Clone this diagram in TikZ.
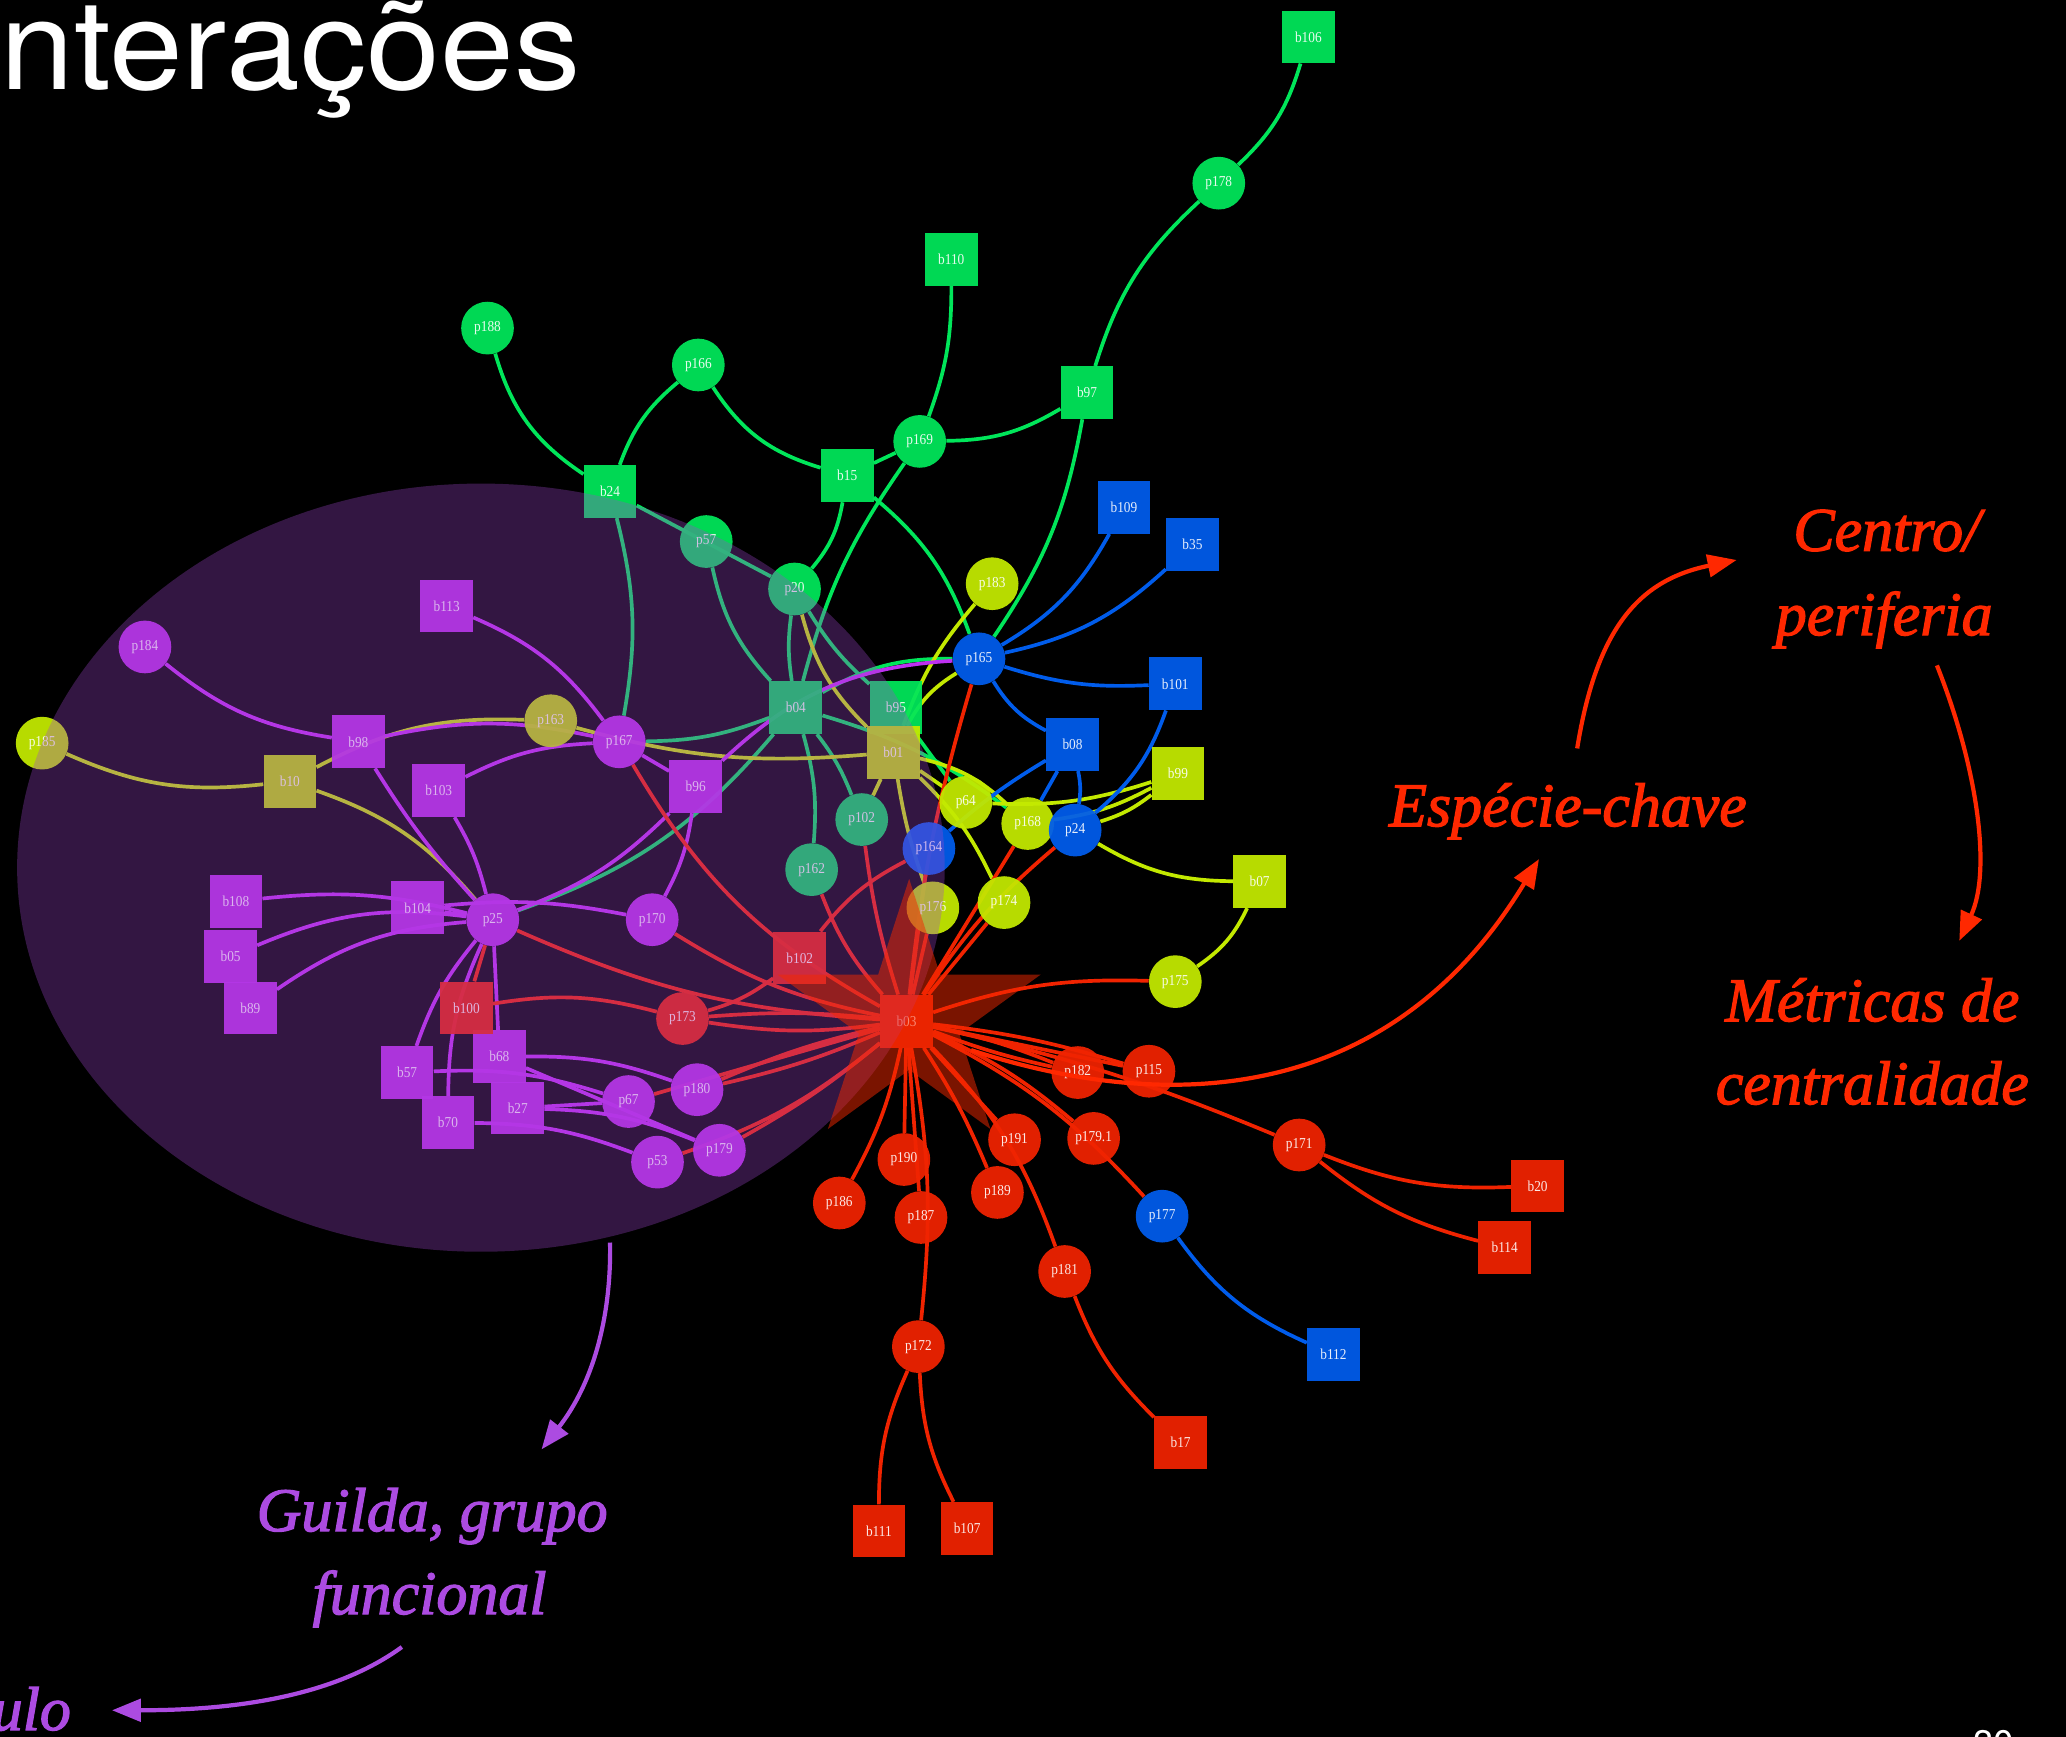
\documentclass[tikz,border=0pt]{standalone}
\usepackage{fontspec}
\usepackage{graphicx}
\setmainfont{Liberation Serif}
\newfontfamily\headfont{TeX Gyre Heros}
\newfontfamily\notefont{Liberation Serif}[FakeBold=2]
\usetikzlibrary{arrows.meta}

\definecolor{gn}{RGB}{0,230,90}
\definecolor{bl}{RGB}{0,92,235}
\definecolor{yl}{RGB}{195,233,0}
\definecolor{pu}{RGB}{190,48,241}
\definecolor{rd}{RGB}{240,35,0}
\definecolor{guild}{RGB}{160,69,206}
\definecolor{starc}{RGB}{244,40,0}
\definecolor{notered}{RGB}{255,40,0}
\definecolor{notepur}{RGB}{172,75,225}

\pgfdeclarelayer{bg}
\pgfdeclarelayer{edges}
\pgfdeclarelayer{over}
\pgfdeclarelayer{top}
\pgfsetlayers{bg,edges,main,over,top}

\newcommand\lb[1]{\scalebox{0.88}[1]{#1}}

\tikzset{
  nd/.style={inner sep=0pt, minimum size=40pt, fill opacity=0.94, text=white,
             text opacity=0.9, font=\fontsize{11.5pt}{11.5pt}\selectfont},
  sq/.style={nd, rectangle},
  ci/.style={nd, circle},
  gs/.style={sq, fill=gn}, gc/.style={ci, fill=gn},
  bs/.style={sq, fill=bl}, bc/.style={ci, fill=bl},
  ys/.style={sq, fill=yl}, yc/.style={ci, fill=yl},
  ps/.style={sq, fill=pu}, pc/.style={ci, fill=pu},
  rs/.style={sq, fill=rd}, rc/.style={ci, fill=rd},
  eg/.style={line width=2.8pt},
  note/.style={font=\notefont\fontsize{47pt}{50pt}\selectfont\itshape, inner sep=0pt, anchor=base},
  rarr/.style={draw=notered, line width=3.2pt, -{Triangle[length=22pt,width=17pt]}},
  parr/.style={draw=notepur, line width=3.2pt, -{Triangle[length=22pt,width=17pt]}},
}

\begin{document}
\begin{tikzpicture}[x=1pt,y=-1pt]
\useasboundingbox (0,0) rectangle (1568,1318);
\begin{pgfonlayer}{bg}
  \fill[black] (0,0) rectangle (1568,1318);
\end{pgfonlayer}

% ---------- title ----------
\node[font=\headfont\fontsize{95pt}{95pt}\selectfont, text=white, anchor=base west, inner sep=0pt]
  (title) at (-28,68) {\scalebox{1.06}[1]{Interações}};
\node[font=\headfont\fontsize{28pt}{28pt}\selectfont, text=white, anchor=base, inner sep=0pt]
  (pg) at (1513,1333) {30};

% ---------- green module ----------
\node[gs] (b106) at (993,28) {\lb{b106}};
\node[gc] (p178) at (925,139) {\lb{p178}};
\node[gs] (b110) at (722,197) {\lb{b110}};
\node[gc] (p188) at (370,249) {\lb{p188}};
\node[gc] (p166) at (530,277) {\lb{p166}};
\node[gs] (b97) at (825,298) {\lb{b97}};
\node[gc] (p169) at (698,335) {\lb{p169}};
\node[gs] (b15) at (643,361) {\lb{b15}};
\node[gs] (b24) at (463,373) {\lb{b24}};
\node[gc] (p57) at (536,411) {\lb{p57}};
\node[gc] (p20) at (603,447) {\lb{p20}};
\node[gs] (b04) at (604,537) {\lb{b04}};
\node[gs] (b95) at (680,537) {\lb{b95}};
\node[gc] (p102) at (654,622) {\lb{p102}};
\node[gc] (p162) at (616,660) {\lb{p162}};

% ---------- blue module ----------
\node[bs] (b109) at (853,385) {\lb{b109}};
\node[bs] (b35) at (905,413) {\lb{b35}};
\node[bc] (p165) at (743,500) {\lb{p165}};
\node[bs] (b101) at (892,519) {\lb{b101}};
\node[bs] (b08) at (814,565) {\lb{b08}};
\node[bc] (p164) at (705,644) {\lb{p164}};
\node[bc] (p177) at (882,923) {\lb{p177}};
\node[bs] (b112) at (1012,1028) {\lb{b112}};

% ---------- yellow module ----------
\node[yc] (p183) at (753,443) {\lb{p183}};
\node[ys] (b99) at (894,587) {\lb{b99}};
\node[ys] (b01) at (678,571) {\lb{b01}};
\node[yc] (p64) at (733,609) {\lb{p64}};
\node[yc] (p168) at (780,625) {\lb{p168}};
\node[bc] (p24) at (816,630) {\lb{p24}};
\node[ys] (b07) at (956,669) {\lb{b07}};
\node[yc] (p174) at (762,685) {\lb{p174}};
\node[yc] (p176) at (708,689) {\lb{p176}};
\node[yc] (p175) at (892,745) {\lb{p175}};
\node[yc] (p163) at (418,547) {\lb{p163}};
\node[yc] (p185) at (32,564) {\lb{p185}};
\node[ys] (b10) at (220,593) {\lb{b10}};

% ---------- purple module ----------
\node[ps] (b113) at (339,460) {\lb{b113}};
\node[pc] (p184) at (110,491) {\lb{p184}};
\node[ps] (b98) at (272,563) {\lb{b98}};
\node[pc] (p167) at (470,563) {\lb{p167}};
\node[ps] (b103) at (333,600) {\lb{b103}};
\node[ps] (b96) at (528,597) {\lb{b96}};
\node[ps] (b108) at (179,684) {\lb{b108}};
\node[ps] (b104) at (317,689) {\lb{b104}};
\node[pc] (p25) at (374,698) {\lb{p25}};
\node[pc] (p170) at (495,698) {\lb{p170}};
\node[ps] (b05) at (175,726) {\lb{b05}};
\node[ps] (b89) at (190,765) {\lb{b89}};
\node[ps] (b57) at (309,814) {\lb{b57}};
\node[ps] (b68) at (379,802) {\lb{b68}};
\node[ps] (b70) at (340,852) {\lb{b70}};
\node[ps] (b27) at (393,841) {\lb{b27}};
\node[pc] (p67) at (477,836) {\lb{p67}};
\node[pc] (p180) at (529,827) {\lb{p180}};
\node[pc] (p53) at (499,882) {\lb{p53}};
\node[pc] (p179) at (546,873) {\lb{p179}};

% ---------- red module ----------
\node[rs] (b102) at (607,727) {\lb{b102}};
\node[rs] (b100) at (354,765) {\lb{b100}};
\node[rc] (p173) at (518,773) {\lb{p173}};
\node[rs] (b03) at (688,775) {\lb{b03}};
\node[rc] (p182) at (818,814) {\lb{p182}};
\node[rc] (p115) at (872,813) {\lb{p115}};
\node[rc] (p191) at (770,865) {\lb{p191}};
\node[rc] (p1791) at (830,864) {\lb{p179.1}};
\node[rc] (p171) at (986,869) {\lb{p171}};
\node[rs] (b20) at (1167,900) {\lb{b20}};
\node[rs] (b114) at (1142,947) {\lb{b114}};
\node[rc] (p190) at (686,880) {\lb{p190}};
\node[rc] (p186) at (637,913) {\lb{p186}};
\node[rc] (p187) at (699,924) {\lb{p187}};
\node[rc] (p189) at (757,905) {\lb{p189}};
\node[rc] (p181) at (808,965) {\lb{p181}};
\node[rc] (p172) at (697,1022) {\lb{p172}};
\node[rs] (b17) at (896,1095) {\lb{b17}};
\node[rs] (b111) at (667,1162) {\lb{b111}};
\node[rs] (b107) at (734,1160) {\lb{b107}};

% ---------- interactions ----------
\begin{pgfonlayer}{edges}
\begin{scope}[eg, draw=gn]
  \draw (b106) to[bend left=15] (p178);
  \draw (p178) to[bend right=15] (b97);
  \draw (b110) to[bend left=10] (p169);
  \draw (p188) to[bend right=20] (b24);
  \draw (p166) to[bend right=15] (b24);
  \draw (p166) to[bend right=20] (b15);
  \draw (p169) to[bend right=15] (b97);
  \draw (p169) -- (b15);
  \draw (b97) to[bend left=12] (p165);
  \draw (b15) to[bend left=15] (p20);
  \draw (b15) to[bend left=15] (p165);
  \draw (p169) to[bend right=10] (b04);
  \draw (b24) -- (p20);
  \draw (p57) to[bend right=15] (b04);
  \draw (b24) to[bend left=12] (p167);
  \draw (p20) to[bend right=8] (b04);
  \draw (p20) to[bend right=8] (b95);
  \draw (b04) to[bend left=8] (p102);
  \draw (b04) to[bend left=10] (p162);
  \draw (b04) to[bend left=10] (p168);
  \draw (b95) -- (p64);
  \draw (b04) to[bend left=15] (p165);
  \draw (b04) to[bend left=15] (p25);
  \draw (b04) to[bend left=10] (p167);
\end{scope}
\begin{scope}[eg, draw=yl]
  \draw (p20) to[bend right=15] (b01);
  \draw (p102) -- (b01);
  \draw (p183) to[bend right=10] (b01);
  \draw (p165) to[bend right=15] (b01);
  \draw (b01) -- (p64);
  \draw (b01) to[bend left=10] (p174);
  \draw (b01) to[bend left=15] (p168);
  \draw (p64) to[bend right=10] (b99);
  \draw (p168) to[bend right=10] (b99);
  \draw (p24) to[bend right=10] (b99);
  \draw (p24) to[bend right=15] (b07);
  \draw (b07) to[bend left=15] (p175);
  \draw (b01) to[bend right=5] (p176);
  \draw (p185) to[bend right=15] (b10);
  \draw (b10) to[bend left=15] (p163);
  \draw (b10) to[bend left=15] (p25);
  \draw (p163) to[bend right=10] (b01);
\end{scope}
\begin{scope}[eg, draw=pu]
  \draw (b113) to[bend left=15] (p167);
  \draw (p184) to[bend right=15] (b98);
  \draw (b98) to[bend left=12] (p167);
  \draw (b98) to[bend right=5] (p25);
  \draw (b103) to[bend left=8] (p25);
  \draw (b103) to[bend left=12] (p167);
  \draw (b96) -- (p167);
  \draw (b96) to[bend left=12] (p25);
  \draw (b96) to[bend left=10] (p170);
  \draw (b96) to[bend left=20] (p165);
  \draw (b108) to[bend left=10] (p25);
  \draw (b05) to[bend left=15] (p25);
  \draw (b89) to[bend left=15] (p25);
  \draw (b104) -- (p25);
  \draw (b104) to[bend left=8] (p170);
  \draw (p25) to[bend right=10] (b57);
  \draw (p25) to[bend right=12] (b70);
  \draw (p25) -- (b68);
  \draw (b68) to[bend left=10] (p180);
  \draw (b57) to[bend left=10] (p67);
  \draw (b27) -- (p67);
  \draw (b70) to[bend left=10] (p53);
  \draw (b27) to[bend left=10] (p179);
  \draw (b68) -- (p179);
\end{scope}
\begin{scope}[eg, draw=bl]
  \draw (p165) to[bend right=15] (b109);
  \draw (p165) to[bend right=15] (b35);
  \draw (p165) to[bend right=10] (b101);
  \draw (p165) to[bend right=15] (b08);
  \draw (b101) to[bend left=15] (p24);
  \draw (b08) to[bend left=10] (p24);
  \draw (b08) -- (p168);
  \draw (b08) to[bend right=5] (p164);
  \draw (p177) to[bend right=15] (b112);
\end{scope}
\begin{scope}[eg, draw=rd]
  \draw (b100) -- (p25);
  \draw (b100) to[bend left=12] (p173);
  \draw (p25) to[bend right=10] (b03);
  \draw (p173) to[bend left=5] (b03);
  \draw (p173) to[bend right=8] (b03);
  \draw (p173) to[bend right=10] (b102);
  \draw (p167) to[bend right=15] (b03);
  \draw (p170) to[bend right=10] (b03);
  \draw (p162) to[bend right=10] (b03);
  \draw (p102) to[bend right=5] (b03);
  \draw (p164) to[bend right=12] (b102);
  \draw (p164) -- (b03);
  \draw (p176) -- (b03);
  \draw (p174) -- (b03);
  \draw (p168) -- (b03);
  \draw (p24) to[bend right=8] (b03);
  \draw (p165) to[bend right=5] (b03);
  \draw (p175) to[bend right=10] (b03);
  \draw (b03) to[bend left=5] (p182);
  \draw (b03) to[bend right=4] (p182);
  \draw (b03) to[bend left=5] (p115);
  \draw (b03) -- (p115);
  \draw (b03) to[bend left=5] (p171);
  \draw (b03) -- (p191);
  \draw (b03) to[bend left=8] (p1791);
  \draw (b03) to[bend left=10] (p177);
  \draw (b03) to[bend left=12] (p181);
  \draw (b03) to[bend left=5] (p189);
  \draw (b03) -- (p190);
  \draw (b03) to[bend left=8] (p186);
  \draw (b03) -- (p187);
  \draw (b03) to[bend left=8] (p172);
  \draw (p172) to[bend right=12] (b111);
  \draw (p172) to[bend right=12] (b107);
  \draw (p181) to[bend right=12] (b17);
  \draw (p171) to[bend right=12] (b20);
  \draw (p171) to[bend right=12] (b114);
  \draw (b03) to[bend left=5] (p180);
  \draw (b03) to[bend right=5] (p180);
  \draw (b03) -- (p67);
  \draw (b03) to[bend left=5] (p179);
  \draw (b03) to[bend left=10] (p53);
\end{scope}
\end{pgfonlayer}

% ---------- guild ellipse and keystone star ----------
\begin{pgfonlayer}{over}
  \fill[guild, fill opacity=0.32] (365,658.5) ellipse [x radius=352, y radius=291.5];
  \fill[starc, fill opacity=0.5]
    (690,667) -- (713.5,739.6) -- (789.9,739.6) -- (728.0,784.4) -- (751.7,856.9)
    -- (690,812) -- (628.3,856.9) -- (652.0,784.4) -- (590.1,739.6) -- (666.5,739.6) -- cycle;
\end{pgfonlayer}

% ---------- notes ----------
\begin{pgfonlayer}{top}
  \node[note, text=notered] (cen1) at (1432,418) {Centro/};
  \node[note, text=notered] (cen2) at (1430,482) {periferia};
  \node[note, text=notered] (esp) at (1190,627) {Espécie-chave};
  \node[note, text=notered] (met1) at (1421,775) {Métricas de};
  \node[note, text=notered] (met2) at (1421,838) {centralidade};
  \node[note, text=notepur] (gui1) at (328,1162) {Guilda, grupo};
  \node[note, text=notepur] (gui2) at (326,1225) {funcional};
  \node[note, text=notepur, anchor=base east] (mod) at (54,1313) {Módulo};

  \coordinate (k0) at (737,797);
  \coordinate (k1) at (1168,652);
  \coordinate (c0) at (1197,568);
  \coordinate (c1) at (1318,425);
  \coordinate (m0) at (1470,505);
  \coordinate (m1) at (1487,714);
  \coordinate (g0) at (463,943);
  \coordinate (g1) at (411,1100);
  \coordinate (d0) at (305,1250);
  \coordinate (d1) at (85,1298);

  \draw[rarr] (k0) .. controls (900,850) and (1060,830) .. (k1);
  \draw[rarr] (c0) .. controls (1212,475) and (1245,440) .. (c1);
  \draw[rarr] (m0) .. controls (1500,580) and (1512,660) .. (m1);
  \draw[parr] (g0) .. controls (464,1000) and (450,1050) .. (g1);
  \draw[parr] (d0) .. controls (250,1290) and (170,1298) .. (d1);
\end{pgfonlayer}
\end{tikzpicture}
\end{document}
